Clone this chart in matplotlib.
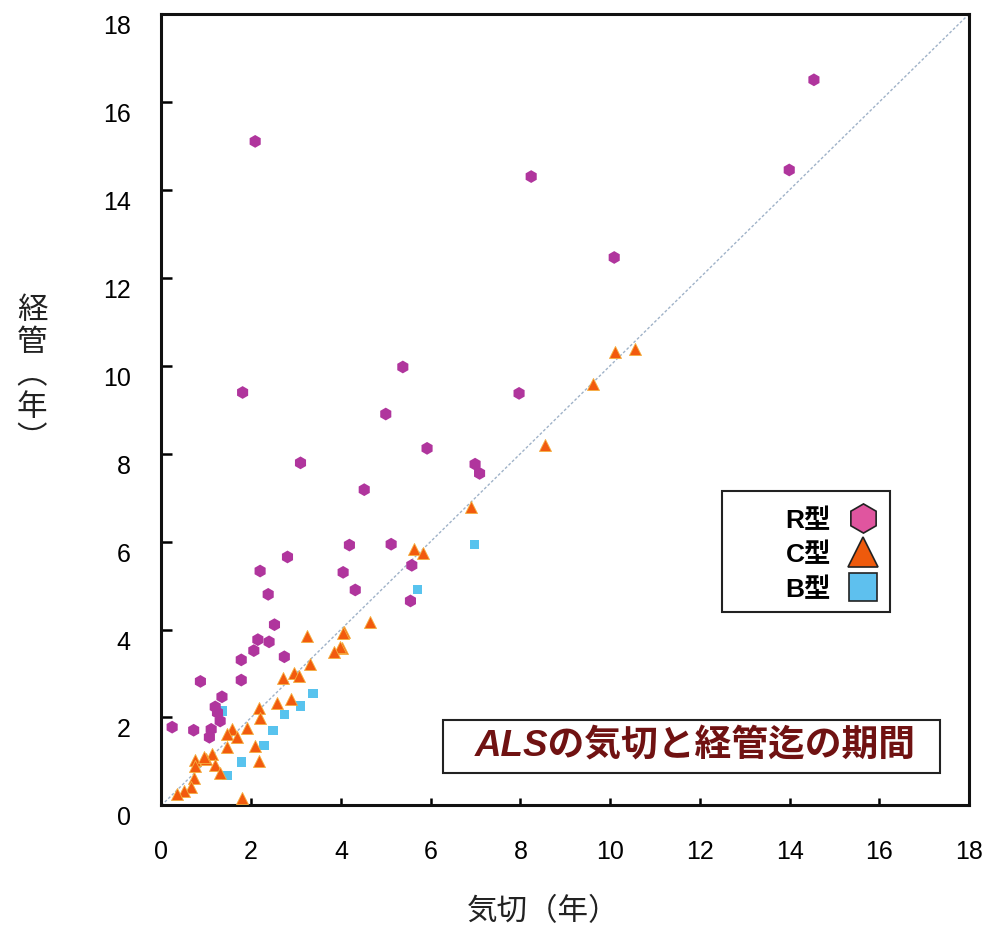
import matplotlib
matplotlib.use("Agg")
import matplotlib.pyplot as plt
from matplotlib.lines import Line2D
from matplotlib.patches import Rectangle

plt.rcParams['font.family'] = ['Liberation Sans', 'Noto Sans CJK JP', 'DejaVu Sans']

# R型 (気切, 経管)
r_x = [14.54, 13.99, 2.09, 8.24, 10.09, 5.38, 1.81, 7.97, 5.00, 5.92, 3.10, 6.99, 7.09,
       4.52, 5.12, 4.19, 2.81, 2.20, 4.05, 4.32, 2.38, 5.55, 5.58,
       2.52, 2.15, 2.40, 2.06, 2.74, 1.78, 0.87, 1.78, 1.35, 1.20, 1.25, 1.31,
       0.24, 0.72, 1.11, 1.07]
r_y = [16.50, 14.45, 15.10, 14.30, 12.46, 9.97, 9.39, 9.37, 8.90, 8.12, 7.79, 7.76, 7.55,
       7.18, 5.94, 5.92, 5.65, 5.33, 5.30, 4.90, 4.80, 4.65, 5.46,
       4.11, 3.77, 3.72, 3.52, 3.38, 3.31, 2.82, 2.85, 2.47, 2.24, 2.11, 1.92,
       1.78, 1.71, 1.73, 1.55]

# C型
c_x = [10.10, 10.56, 9.61, 8.54, 6.90, 5.63, 5.83, 4.65, 4.08, 4.02,
       3.24, 4.05, 3.99, 3.84, 3.32, 2.95, 3.06, 2.72, 2.89, 2.58, 2.17,
       2.20, 1.91, 1.57, 1.46, 1.69, 1.46, 2.09, 2.17, 1.13, 0.76, 1.20,
       0.76, 1.31, 0.72, 0.65, 0.50, 1.80, 1.00, 0.95, 0.35]
c_y = [10.30, 10.38, 9.58, 8.19, 6.79, 5.83, 5.74, 4.18, 3.94, 3.59,
       3.86, 3.92, 3.61, 3.48, 3.22, 3.02, 2.95, 2.90, 2.42, 2.32, 2.21,
       1.98, 1.77, 1.73, 1.62, 1.55, 1.33, 1.35, 1.00, 1.16, 1.04, 0.93,
       0.89, 0.74, 0.62, 0.43, 0.32, 0.17, 1.05, 1.10, 0.25]

# B型
b_x = [6.97, 5.71, 3.38, 3.10, 2.74, 2.49, 2.29, 1.78, 1.46, 1.35]
b_y = [5.94, 4.91, 2.54, 2.26, 2.06, 1.71, 1.37, 0.99, 0.68, 2.15]

ticks = list(range(0, 19, 2))
type_labels = ['R型', 'C型', 'B型']

r_color = '#b0359d'
c_color = '#f25a0e'
b_color = '#58c3ee'

fig = plt.figure(figsize=(9.9, 9.28), dpi=100)
ax = fig.add_axes([0.163, 0.131, 0.816, 0.853])

# 対角線 (気切 = 経管)
ax.plot([0, 18], [0, 18], color='#9fb2c8', lw=1.0, ls=(0, (2, 1.5)), zorder=1)

ax.scatter(r_x, r_y, marker='h', s=85, color=r_color, edgecolors='none', zorder=3)
ax.scatter(c_x, c_y, marker='^', s=75, color=c_color, edgecolors='#f5b040',
           linewidths=0.6, zorder=4)
ax.scatter(b_x, b_y, marker='s', s=45, color=b_color, edgecolors='none', zorder=2)

ax.set_xlim(0, 18)
ax.set_ylim(0, 18)
ax.set_xticks(ticks)
ax.set_yticks(ticks)
ax.tick_params(axis='both', direction='in', labelsize=18, width=1.8)
ax.tick_params(axis='y', length=8, pad=22)
ax.tick_params(axis='x', length=5, pad=24)
for lbl in ax.get_yticklabels():
    lbl.set_va('top')
for sp in ax.spines.values():
    sp.set_linewidth(2.2)
    sp.set_color('#111111')

# 凡例 (枠は別に描く)
handles = [
    Line2D([], [], ls='none', marker='h', ms=21, mfc='#e0559f', mec='#222222', mew=1.2),
    Line2D([], [], ls='none', marker='^', ms=21, mfc='#ee5a0c', mec='#222222', mew=1.2),
    Line2D([], [], ls='none', marker='s', ms=20, mfc='#5ec0ee', mec='#222222', mew=1.2),
]
ax.legend(handles, type_labels, loc='upper right',
          bbox_to_anchor=(0.904, 0.393), markerfirst=False, frameon=False,
          handletextpad=0.6, labelspacing=0.38, borderpad=0, handlelength=1.2,
          prop={'family': ['Liberation Sans', 'Noto Sans CJK JP'],
                'weight': 'bold', 'size': 19})
ax.add_patch(Rectangle((0.694, 0.244), 0.208, 0.153, transform=ax.transAxes,
                       fc='none', ec='#222222', lw=1.5, zorder=5))

# 表題
ax.add_patch(Rectangle((0.349, 0.0405), 0.615, 0.068, transform=ax.transAxes,
                       fc='white', ec='#222222', lw=1.5, zorder=5))
ax.text(0.661, 0.0746, 'ALSの気切と経管迄の期間', transform=ax.transAxes,
        ha='center', va='center', fontsize=26.5, fontweight='bold', fontstyle='italic',
        color='#701212', family=['Liberation Sans', 'Noto Sans CJK JP'], zorder=6)

fig.text(543 / 990, 1 - 912 / 928, '気切（年）', ha='center', va='center',
         fontsize=22, family=['Noto Sans CJK JP'], color='#222222')
fig.text(32 / 990, 1 - 375 / 928, '経\n管\n︵\n年\n︶', ha='center', va='center',
         fontsize=22, family=['Noto Sans CJK JP'], color='#222222', linespacing=1.05)

fig.savefig('out.png', dpi=100, facecolor='white')
